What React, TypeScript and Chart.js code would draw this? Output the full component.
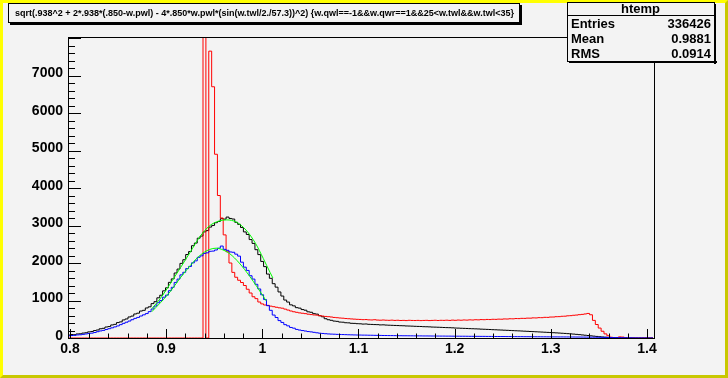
import React, { useEffect, useRef } from "react";
import { Chart, registerables } from "chart.js";

Chart.register(...registerables);

// ---------- data ----------
const xAxisMin = 0.7979;
const xAxisMax = 1.4073;
const yAxisMax = 8027;
const binStart = 0.7973;
const binWidth = 0.003;

const blackCounts = [
  78, 92, 88, 108, 112, 131, 140, 163, 172, 199,
  214, 246, 258, 293, 305, 348, 364, 411, 430, 482,
  508, 561, 585, 641, 662, 719, 738, 801, 832, 917,
  968, 1072, 1141, 1258, 1339, 1484, 1577, 1733, 1838, 1990,
  2088, 2226, 2305, 2461, 2531, 2662, 2718, 2829, 2864, 2958,
  3002, 3075, 3108, 3182, 3170, 3225, 3188, 3172, 3085, 3031,
  2948, 2829, 2761, 2625, 2523, 2355, 2224, 2042, 1903, 1705,
  1592, 1448, 1356, 1228, 1119, 1012, 958, 884, 857, 809,
  796, 758, 741, 698, 686, 649, 637, 594, 566, 514,
  487, 472, 451, 444, 425, 421, 407, 404, 392, 390,
  382, 379, 371, 374, 365, 362, 358, 356, 349, 351,
  345, 341, 338, 335, 332, 328, 326, 321, 319, 316,
  312, 309, 307, 302, 300, 297, 292, 290, 287, 284,
  280, 277, 275, 271, 266, 264, 260, 257, 254, 250,
  247, 244, 241, 236, 233, 230, 226, 222, 219, 215,
  212, 208, 205, 201, 197, 193, 190, 186, 182, 178,
  174, 170, 166, 162, 158, 154, 150, 146, 141, 137,
  132, 127, 122, 116, 110, 104, 97, 90, 82, 74,
  66, 58, 50, 42, 34, 27, 21, 16, 12, 9,
  6, 4, 3, 2, 1, 1, 0, 0, 0, 0, 0, 0, 0,
];

const redCounts = [
  0, 0, 0, 0, 0, 0, 0, 0, 0, 0,
  0, 0, 0, 0, 0, 0, 0, 0, 0, 0,
  0, 0, 0, 0, 0, 0, 0, 0, 0, 0,
  0, 0, 0, 0, 0, 0, 0, 0, 0, 0,
  0, 0, 0, 0, 0, 0, 0, 30000, 0, 7650,
  6700, 4900, 3800, 3200, 2750, 2300, 2000, 1750, 1620, 1540,
  1480, 1400, 1300, 1200, 1100, 1050, 960, 910, 880, 870,
  850, 835, 820, 805, 795, 770, 745, 720, 700, 685,
  670, 660, 650, 635, 625, 615, 610, 595, 585, 575,
  568, 560, 548, 541, 533, 528, 519, 514, 508, 503,
  498, 495, 489, 492, 484, 481, 487, 478, 475, 480,
  474, 471, 476, 469, 473, 467, 470, 465, 472, 468,
  466, 470, 464, 468, 471, 465, 469, 473, 467, 472,
  470, 475, 469, 477, 472, 479, 474, 481, 477, 484,
  480, 487, 484, 491, 488, 495, 492, 499, 497, 503,
  501, 508, 506, 513, 511, 519, 517, 524, 523, 530,
  529, 537, 535, 543, 542, 551, 550, 559, 560, 568,
  570, 579, 582, 592, 596, 606, 612, 622, 630, 641,
  655, 620, 470, 360, 265, 180, 110, 60, 20, 5,
  0, 30, 25, 0, 0, 0, 0, 0, 0, 0, 0, 0, 0,
];

const blueCounts = [
  58, 66, 71, 82, 86, 97, 108, 121, 129, 146,
  168, 189, 203, 226, 248, 271, 296, 322, 356, 391,
  421, 452, 488, 523, 549, 586, 618, 651, 703, 772,
  852, 941, 998, 1088, 1143, 1262, 1351, 1482, 1571, 1684,
  1752, 1851, 1908, 2004, 2057, 2152, 2191, 2256, 2271, 2312,
  2318, 2347, 2395, 2452, 2364, 2338, 2295, 2286, 2236, 2184,
  2022, 1889, 1802, 1661, 1571, 1432, 1308, 1153, 1026, 862,
  738, 612, 547, 464, 415, 356, 324, 281, 262, 229,
  212, 198, 186, 172, 163, 151, 139, 128, 121, 114,
  108, 104, 101, 97, 94, 92, 89, 86, 84, 82,
  80, 79, 77, 76, 74, 73, 71, 70, 69, 67,
  66, 65, 64, 63, 62, 61, 60, 60, 59, 58,
  57, 57, 56, 55, 55, 54, 53, 53, 52, 51,
  51, 50, 50, 49, 48, 48, 47, 47, 46, 45,
  45, 44, 44, 43, 43, 42, 42, 41, 40, 40,
  39, 39, 38, 38, 37, 37, 36, 36, 35, 35,
  34, 34, 33, 33, 32, 32, 31, 31, 30, 30,
  29, 29, 28, 28, 27, 27, 26, 26, 25, 24,
  23, 22, 21, 20, 19, 18, 17, 15, 14, 12,
  11, 9, 8, 7, 6, 5, 4, 3, 3, 2, 2, 1, 1,
];

const fitBlackX = [0.885, 0.895, 0.905, 0.915, 0.925, 0.935, 0.945, 0.955, 0.963, 0.973, 0.983, 0.993, 1.001, 1.008, 1.011];
const fitBlackY = [780, 1090, 1480, 1880, 2290, 2700, 2990, 3120, 3150, 3090, 2880, 2520, 2120, 1750, 1600];
const fitBlueX = [0.885, 0.894, 0.904, 0.914, 0.925, 0.935, 0.945, 0.952, 0.959, 0.966, 0.976, 0.987, 0.994, 1.001, 1.004];
const fitBlueY = [700, 940, 1230, 1580, 1930, 2200, 2360, 2395, 2350, 2250, 2000, 1640, 1380, 1110, 990];

const xTickValues = [0.8, 0.9, 1.0, 1.1, 1.2, 1.3, 1.4];
const xTickLabels = ["0.8", "0.9", "1", "1.1", "1.2", "1.3", "1.4"];
const yTickValues = [0, 1000, 2000, 3000, 4000, 5000, 6000, 7000];
const yTickLabels = ["0", "1000", "2000", "3000", "4000", "5000", "6000", "7000"];

const titleText =
  "sqrt(.938^2 + 2*.938*(.850-w.pwl) - 4*.850*w.pwl*(sin(w.twl/2./57.3))^2) {w.qwl==-1&&w.qwr==1&&25<w.twl&&w.twl<35}";
const statsName = "htemp";
const statsLabels = ["Entries", "Mean", "RMS"];
const statsValues = ["336426", "0.9881", "0.0914"];

// ---------- styles ----------
const BG = "#f3f3f3";
const FONT = '"Liberation Sans", Arial, Helvetica, sans-serif';

function histPoints(counts: number[]) {
  const pts = counts.map((c, i) => ({ x: binStart + i * binWidth, y: c }));
  pts.push({ x: binStart + counts.length * binWidth, y: counts[counts.length - 1] });
  return pts;
}

function curvePoints(xs: number[], ys: number[]) {
  return xs.map((x, i) => ({ x, y: ys[i] }));
}

const rootPlugin = {
  id: "rootDecor",
  beforeDraw(chart: any) {
    const { ctx, width, height } = chart;
    ctx.save();
    ctx.fillStyle = BG;
    ctx.fillRect(0, 0, width, height);
    const b = 3;
    ctx.fillStyle = "#c8c800";
    ctx.fillRect(0, height - b, width, b);
    ctx.fillRect(width - b, 0, b, height);
    ctx.fillStyle = "#ffff00";
    ctx.beginPath();
    ctx.moveTo(0, 0);
    ctx.lineTo(width, 0);
    ctx.lineTo(width - b, b);
    ctx.lineTo(b, b);
    ctx.lineTo(b, height - b);
    ctx.lineTo(0, height);
    ctx.closePath();
    ctx.fill();
    ctx.restore();
  },
  afterDraw(chart: any) {
    const { ctx, chartArea } = chart;
    const xs = chart.scales.x;
    const ys = chart.scales.y;
    const L = Math.round(chartArea.left), R = Math.round(chartArea.right);
    const T = Math.round(chartArea.top), B = Math.round(chartArea.bottom);
    ctx.save();
    ctx.strokeStyle = "#000";
    ctx.lineWidth = 1;
    ctx.strokeRect(L + 0.5, T + 0.5, R - L, B - T);
    ctx.beginPath();
    for (let v = 0; v <= yAxisMax; v += 200) {
      const py = Math.round(ys.getPixelForValue(v)) + 0.5;
      const len = v % 1000 === 0 ? 13 : 7;
      ctx.moveTo(L, py);
      ctx.lineTo(L + len, py);
    }
    for (let k = 0; k <= 30; k++) {
      const v = 0.8 + k * 0.02;
      const px = Math.round(xs.getPixelForValue(v)) + 0.5;
      const len = k % 5 === 0 ? 9 : 4.5;
      ctx.moveTo(px, B);
      ctx.lineTo(px, B - len);
    }
    ctx.stroke();

    // title box
    const tx0 = 8, ty0 = 3, tx1 = 519, ty1 = 22;
    ctx.fillStyle = "#000";
    ctx.fillRect(tx0 + 2, ty1, tx1 - tx0 + 1, 3);
    ctx.fillRect(tx1, ty0 + 2, 3, ty1 - ty0 + 1);
    ctx.fillStyle = BG;
    ctx.fillRect(tx0, ty0, tx1 - tx0, ty1 - ty0);
    ctx.strokeRect(tx0 + 0.5, ty0 + 0.5, tx1 - tx0, ty1 - ty0);
    let fs = 11;
    ctx.font = `bold ${fs}px ${FONT}`;
    const w = ctx.measureText(titleText).width;
    fs = (fs * 500) / w;
    ctx.font = `bold ${fs}px ${FONT}`;
    ctx.fillStyle = "#000";
    ctx.textAlign = "center";
    ctx.textBaseline = "middle";
    ctx.fillText(titleText, (tx0 + tx1) / 2 + 1, (ty0 + ty1) / 2 + 1);

    // stats box
    const sx0 = 567, sy0 = 2, sx1 = 714, sy1 = 61;
    ctx.fillStyle = "#000";
    ctx.fillRect(sx0 + 2, sy1, sx1 - sx0 + 1, 2);
    ctx.fillRect(sx1, sy0 + 2, 2, sy1 - sy0 + 1);
    ctx.fillStyle = BG;
    ctx.fillRect(sx0, sy0, sx1 - sx0, sy1 - sy0);
    ctx.strokeRect(sx0 + 0.5, sy0 + 0.5, sx1 - sx0, sy1 - sy0);
    ctx.beginPath();
    ctx.moveTo(sx0, 15.5);
    ctx.lineTo(sx1, 15.5);
    ctx.stroke();
    ctx.fillStyle = "#000";
    ctx.font = `bold 13px ${FONT}`;
    ctx.textAlign = "center";
    ctx.fillText(statsName, (sx0 + sx1) / 2, 9);
    const rowsY = [24, 39.5, 54.5];
    statsLabels.forEach((lab, i) => {
      ctx.textAlign = "left";
      ctx.fillText(lab, sx0 + 4, rowsY[i]);
      ctx.textAlign = "right";
      ctx.fillText(statsValues[i], sx1 - 3, rowsY[i]);
    });
    ctx.restore();
  },
};

export default function App() {
  const ref = useRef<HTMLCanvasElement | null>(null);
  useEffect(() => {
    document.body.style.margin = "0";
    const canvas = ref.current!;
    const chart = new Chart(canvas, {
      type: "line",
      data: {
        datasets: [
          {
            label: "fit blue",
            data: curvePoints(fitBlueX, fitBlueY),
            borderColor: "#00ff00",
            borderWidth: 1,
            pointRadius: 0,
            tension: 0.4,
            cubicInterpolationMode: "monotone",
            fill: false,
            order: 0,
          },
          {
            label: "fit black",
            data: curvePoints(fitBlackX, fitBlackY),
            borderColor: "#00ff00",
            borderWidth: 1,
            pointRadius: 0,
            tension: 0.4,
            cubicInterpolationMode: "monotone",
            fill: false,
            order: 1,
          },
          {
            label: "blue",
            data: histPoints(blueCounts),
            borderColor: "#0000ff",
            borderWidth: 1,
            pointRadius: 0,
            stepped: "before",
            fill: false,
            order: 2,
          },
          {
            label: "red",
            data: histPoints(redCounts),
            borderColor: "#ff0000",
            borderWidth: 1,
            pointRadius: 0,
            stepped: "before",
            fill: false,
            order: 3,
          },
          {
            label: "black",
            data: histPoints(blackCounts),
            borderColor: "#000000",
            borderWidth: 1,
            pointRadius: 0,
            stepped: "before",
            fill: false,
            order: 4,
          },
        ],
      },
      options: {
        animation: false,
        responsive: false,
        devicePixelRatio: 1,
        layout: { padding: { left: 0, right: 74, top: 37, bottom: 0 } },
        plugins: { legend: { display: false }, tooltip: { enabled: false }, title: { display: false } },
        scales: {
          x: {
            type: "linear",
            min: xAxisMin,
            max: xAxisMax,
            grid: { display: false, drawTicks: false },
            border: { display: false },
            afterBuildTicks: (s: any) => {
              s.ticks = xTickValues.map((v) => ({ value: v }));
            },
            afterFit: (s: any) => {
              s.height = 40;
            },
            ticks: {
              autoSkip: false,
              maxRotation: 0,
              padding: 3,
              color: "#000",
              font: { family: FONT, size: 14, weight: "bold" },
              callback: (_v: any, i: number) => xTickLabels[i],
            },
          },
          y: {
            type: "linear",
            min: 0,
            max: yAxisMax,
            grid: { display: false, drawTicks: false },
            border: { display: false },
            afterBuildTicks: (s: any) => {
              s.ticks = yTickValues.map((v) => ({ value: v }));
            },
            afterFit: (s: any) => {
              s.width = 68;
            },
            ticks: {
              autoSkip: false,
              padding: 5,
              labelOffset: -2,
              color: "#000",
              font: { family: FONT, size: 14, weight: "bold" },
              callback: (_v: any, i: number) => yTickLabels[i],
            },
          },
        },
      },
      plugins: [rootPlugin],
    } as any);
    return () => chart.destroy();
  }, []);
  return <canvas ref={ref} width={728} height={378} style={{ display: "block", width: 728, height: 378 }} />;
}
